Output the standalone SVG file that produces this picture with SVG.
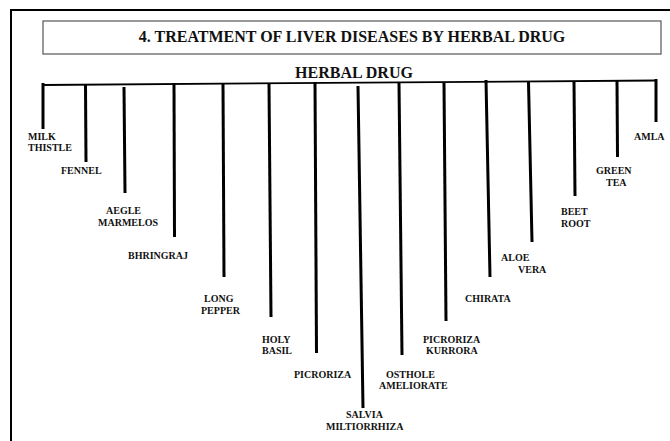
<svg xmlns="http://www.w3.org/2000/svg" width="670" height="441" viewBox="0 0 670 441">
<style>
text{font-family:"Liberation Serif","Times New Roman",serif;font-weight:bold;fill:#111}
.lbl{font-size:10px}
.stem{stroke:#000;stroke-width:3;fill:none}
</style>
<rect x="0" y="0" width="670" height="441" fill="#fff"/>
<path d="M11,441 V10 H670" fill="none" stroke="#000" stroke-width="2"/>
<g id="title">
<rect x="43" y="21" width="618" height="33" fill="#fff" stroke="#555" stroke-width="1.2"/>
<text x="352" y="42" text-anchor="middle" font-size="16">4. TREATMENT OF LIVER DISEASES BY HERBAL DRUG</text>
</g>
<g id="root">
<text x="354" y="78" text-anchor="middle" font-size="16">HERBAL DRUG</text>
</g>
<g id="connectors">
<line x1="43" y1="85" x2="656" y2="80.5" stroke="#000" stroke-width="1.8"/>
<line class="stem" x1="43" y1="83" x2="43" y2="129"/>
<line class="stem" x1="85.5" y1="85" x2="86" y2="162"/>
<line class="stem" x1="124" y1="87" x2="125" y2="193"/>
<line class="stem" x1="174" y1="83" x2="174.5" y2="237"/>
<line class="stem" x1="223" y1="84" x2="224" y2="277"/>
<line class="stem" x1="269" y1="84" x2="271" y2="317"/>
<line class="stem" x1="315" y1="82" x2="316.5" y2="353"/>
<line class="stem" x1="358" y1="86" x2="363" y2="408"/>
<line class="stem" x1="399" y1="83" x2="402" y2="355"/>
<line class="stem" x1="444" y1="83" x2="446" y2="321"/>
<line class="stem" x1="486" y1="80" x2="490" y2="277"/>
<line class="stem" x1="528.5" y1="82" x2="532" y2="242"/>
<line class="stem" x1="574" y1="81" x2="575" y2="196"/>
<line class="stem" x1="617" y1="81" x2="617.5" y2="157"/>
<line class="stem" x1="656" y1="79" x2="656" y2="122"/>
</g>
<g id="milk-thistle"><text class="lbl" x="28" y="140">MILK</text><text class="lbl" x="28" y="151">THISTLE</text></g>
<g id="fennel"><text class="lbl" x="61" y="174">FENNEL</text></g>
<g id="aegle-marmelos"><text class="lbl" x="106" y="214">AEGLE</text><text class="lbl" x="98" y="226">MARMELOS</text></g>
<g id="bhringraj"><text class="lbl" x="128" y="259">BHRINGRAJ</text></g>
<g id="long-pepper"><text class="lbl" x="204" y="302">LONG</text><text class="lbl" x="201" y="314">PEPPER</text></g>
<g id="holy-basil"><text class="lbl" x="262" y="343">HOLY</text><text class="lbl" x="262" y="354">BASIL</text></g>
<g id="picroriza"><text class="lbl" x="294" y="378">PICRORIZA</text></g>
<g id="salvia"><text class="lbl" x="346" y="418">SALVIA</text><text class="lbl" x="326" y="430">MILTIORRHIZA</text></g>
<g id="osthole"><text class="lbl" x="386" y="378">OSTHOLE</text><text class="lbl" x="379" y="389">AMELIORATE</text></g>
<g id="picroriza-kurrora"><text class="lbl" x="423" y="343">PICRORIZA</text><text class="lbl" x="426" y="354">KURRORA</text></g>
<g id="chirata"><text class="lbl" x="465" y="302">CHIRATA</text></g>
<g id="aloe-vera"><text class="lbl" x="501" y="261">ALOE</text><text class="lbl" x="518" y="273">VERA</text></g>
<g id="beet-root"><text class="lbl" x="561" y="215">BEET</text><text class="lbl" x="561" y="227">ROOT</text></g>
<g id="green-tea"><text class="lbl" x="596" y="174">GREEN</text><text class="lbl" x="606" y="186">TEA</text></g>
<g id="amla"><text class="lbl" x="634" y="140">AMLA</text></g>
</svg>
